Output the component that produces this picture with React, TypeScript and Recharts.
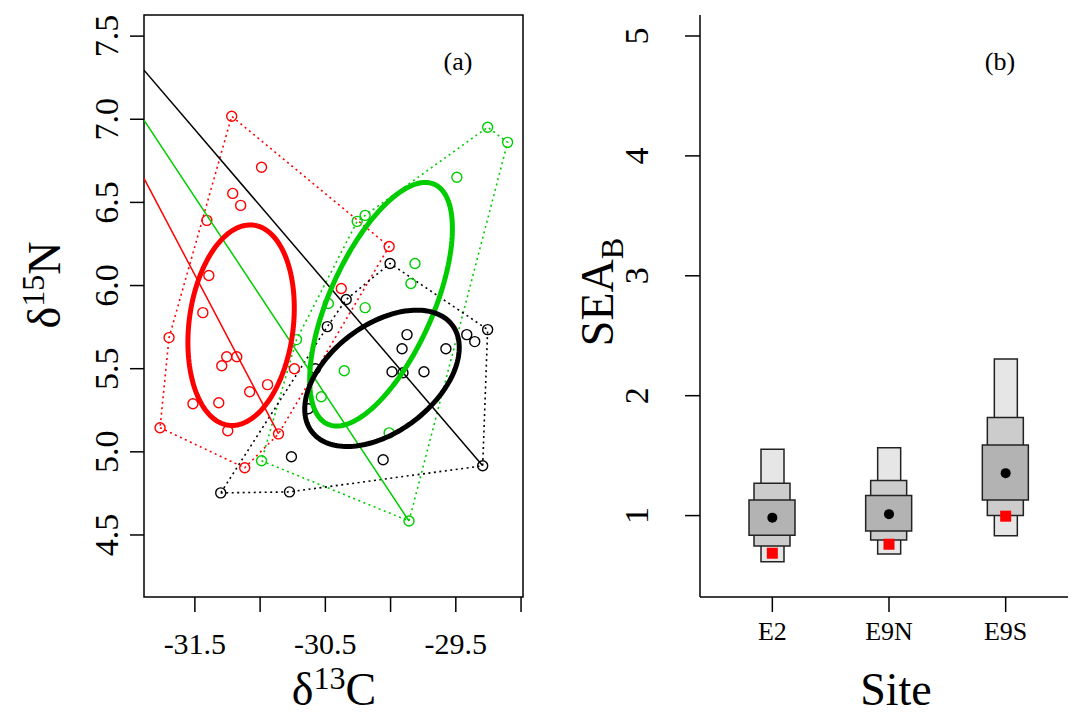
import React from "react";
import {
  ScatterChart,
  Scatter,
  XAxis,
  YAxis,
  ReferenceArea,
  ComposedChart,
  Bar,
  Line,
} from "recharts";

const SERIF = '"Liberation Serif", "DejaVu Serif", serif';

// ---- panel (a): isotope values per group ----
const redC = [-31.218, -30.989, -31.21, -31.149, -31.408, -30.011, -31.393, -30.378, -31.439, -31.698, -31.256, -31.179, -31.294, -30.737, -30.943, -31.08, -31.515, -31.317, -31.767, -31.248, -30.859, -31.118];
const redN = [7.018, 6.711, 6.554, 6.482, 6.392, 6.235, 6.06, 5.982, 5.837, 5.687, 5.572, 5.572, 5.518, 5.5, 5.404, 5.361, 5.289, 5.295, 5.145, 5.127, 5.108, 4.904];
const greenC = [-29.256, -29.103, -29.492, -30.195, -30.256, -29.813, -29.844, -30.477, -30.195, -30.721, -30.355, -30.531, -30.011, -29.859, -30.989];
const greenN = [6.952, 6.861, 6.651, 6.422, 6.386, 6.133, 6.012, 5.892, 5.867, 5.675, 5.488, 5.331, 5.114, 4.584, 4.946];
const blackC = [-30.004, -30.34, -30.485, -29.256, -29.874, -29.416, -29.355, -29.912, -29.576, -29.989, -29.905, -29.744, -30.576, -30.63, -30.76, -30.057, -29.294, -30.775, -31.302];
const blackN = [6.133, 5.916, 5.753, 5.735, 5.705, 5.705, 5.663, 5.62, 5.62, 5.482, 5.476, 5.482, 5.5, 5.259, 4.97, 4.952, 4.916, 4.759, 4.753];

// solid lines (start at left edge, end at a hull point)
const redLineC = [-31.89, -30.859];
const redLineN = [6.645, 5.108];
const greenLineC = [-31.89, -29.859];
const greenLineN = [6.994, 4.584];
const blackLineC = [-31.89, -29.294];
const blackLineN = [7.295, 4.916];

const xDomainA: [number, number] = [-31.89, -28.985];
const yDomainA: [number, number] = [4.127, 7.627];
const xTicksA = [-31.5, -31, -30.5, -30, -29.5, -29];
const xLabelledA = [-31.5, -30.5, -29.5];
const yTicksA = [4.5, 5, 5.5, 6, 6.5, 7, 7.5];

// ---- panel (b): SEA_B credible intervals ----
const sites = ["E2", "E9N", "E9S"];
const ci95Low = [0.616, 0.68, 0.831];
const ci95High = [1.554, 1.565, 2.306];
const ci75Low = [0.747, 0.797, 1.0];
const ci75High = [1.27, 1.292, 1.818];
const ci50Low = [0.836, 0.872, 1.129];
const ci50High = [1.129, 1.167, 1.588];
const seaMode = [0.983, 1.012, 1.354];
const seaCorrected = [0.686, 0.761, 0.995];

const yDomainB: [number, number] = [0.321, 5.175];
const yTicksB = [1, 2, 3, 4, 5];

const RED = "#FF0000";
const GREEN = "#00CD00";
const BLACK = "#000000";

type Pt = { x: number; y: number };

const toPts = (xs: number[], ys: number[]): Pt[] => xs.map((x, i) => ({ x, y: ys[i] }));

// convex hull (monotone chain), closed
function hull(pts: Pt[]): Pt[] {
  const p = [...pts].sort((a, b) => a.x - b.x || a.y - b.y);
  const cross = (o: Pt, a: Pt, b: Pt) => (a.x - o.x) * (b.y - o.y) - (a.y - o.y) * (b.x - o.x);
  const lower: Pt[] = [];
  for (const q of p) {
    while (lower.length >= 2 && cross(lower[lower.length - 2], lower[lower.length - 1], q) <= 0) lower.pop();
    lower.push(q);
  }
  const upper: Pt[] = [];
  for (let i = p.length - 1; i >= 0; i--) {
    const q = p[i];
    while (upper.length >= 2 && cross(upper[upper.length - 2], upper[upper.length - 1], q) <= 0) upper.pop();
    upper.push(q);
  }
  const h = lower.slice(0, -1).concat(upper.slice(0, -1));
  return [...h, h[0]];
}

// small-sample corrected standard ellipse (SEAc)
function ellipse(xs: number[], ys: number[]): Pt[] {
  const n = xs.length;
  const mx = xs.reduce((s, v) => s + v, 0) / n;
  const my = ys.reduce((s, v) => s + v, 0) / n;
  let sxx = 0, syy = 0, sxy = 0;
  for (let i = 0; i < n; i++) {
    sxx += (xs[i] - mx) ** 2;
    syy += (ys[i] - my) ** 2;
    sxy += (xs[i] - mx) * (ys[i] - my);
  }
  sxx /= n - 1;
  syy /= n - 1;
  sxy /= n - 1;
  const tr = sxx + syy;
  const det = sxx * syy - sxy * sxy;
  const d = Math.sqrt(Math.max(tr * tr / 4 - det, 0));
  const l1 = tr / 2 + d;
  const l2 = tr / 2 - d;
  const th = Math.atan2(l1 - sxx, sxy);
  const k = Math.sqrt((n - 1) / (n - 2));
  const a = Math.sqrt(l1) * k;
  const b = Math.sqrt(Math.max(l2, 0)) * k;
  const out: Pt[] = [];
  for (let i = 0; i <= 160; i++) {
    const t = (i / 160) * 2 * Math.PI;
    out.push({
      x: mx + a * Math.cos(t) * Math.cos(th) - b * Math.sin(t) * Math.sin(th),
      y: my + a * Math.cos(t) * Math.sin(th) + b * Math.sin(t) * Math.cos(th),
    });
  }
  return out;
}

const groups = [
  { color: RED, xs: redC, ys: redN, lx: redLineC, ly: redLineN },
  { color: GREEN, xs: greenC, ys: greenN, lx: greenLineC, ly: greenLineN },
  { color: BLACK, xs: blackC, ys: blackN, lx: blackLineC, ly: blackLineN },
];

const siteData = sites.map((site, i) => ({
  site,
  r95: [ci95Low[i], ci95High[i]],
  r75: [ci75Low[i], ci75High[i]],
  r50: [ci50Low[i], ci50High[i]],
  mode: seaMode[i],
  seac: seaCorrected[i],
}));

const Empty = () => <g />;

const XTickA = (props: any) => {
  const v = props.payload.value;
  if (!xLabelledA.some((l) => Math.abs(l - v) < 1e-6)) return <g />;
  return (
    <text x={props.x} y={654} textAnchor="middle" fontSize={30} fontFamily={SERIF} fill="#000">
      {v.toFixed(1)}
    </text>
  );
};

const YTickA = (props: any) => (
  <text
    x={118}
    y={props.y}
    transform={`rotate(-90, 118, ${props.y})`}
    textAnchor="middle"
    fontSize={34}
    fontFamily={SERIF}
    fill="#000"
  >
    {props.payload.value.toFixed(1)}
  </text>
);

const XTickB = (props: any) => (
  <text x={props.x} y={640} textAnchor="middle" fontSize={26} fontFamily={SERIF} fill="#000">
    {props.payload.value}
  </text>
);

const YTickB = (props: any) => (
  <text
    x={648}
    y={props.y}
    transform={`rotate(-90, 648, ${props.y})`}
    textAnchor="middle"
    fontSize={34}
    fontFamily={SERIF}
    fill="#000"
  >
    {props.payload.value}
  </text>
);

const tickLine = { stroke: "#000", strokeWidth: 1.5 };
const frameLine = { stroke: "#000", strokeWidth: 1.5 };

export default function App() {
  return (
    <div
      style={{
        position: "relative",
        width: 1076,
        height: 718,
        margin: -8,
        overflow: "hidden",
        background: "#fff",
        fontFamily: SERIF,
        color: "#000",
      }}
    >
      <div style={{ position: "absolute", left: 0, top: 0 }}>
        <ScatterChart width={560} height={718} margin={{ top: 15, right: 37, bottom: 0, left: 0 }}>
          <XAxis
            type="number"
            dataKey="x"
            domain={xDomainA}
            ticks={xTicksA}
            interval={0}
            allowDataOverflow
            height={121}
            tickSize={15}
            axisLine={false}
            tickLine={tickLine}
            tick={XTickA}
          />
          <YAxis
            type="number"
            dataKey="y"
            domain={yDomainA}
            ticks={yTicksA}
            interval={0}
            allowDataOverflow
            width={144}
            tickSize={14}
            axisLine={false}
            tickLine={tickLine}
            tick={YTickA}
          />
          <ReferenceArea
            x1={xDomainA[0]}
            x2={xDomainA[1]}
            y1={yDomainA[0]}
            y2={yDomainA[1]}
            fill="none"
            stroke="#000"
            strokeWidth={1.5}
            ifOverflow="visible"
          />
          {groups.map((g, i) => (
            <Scatter
              key={`hull${i}`}
              data={hull(toPts(g.xs, g.ys))}
              line={{ stroke: g.color, strokeWidth: 1.6, strokeDasharray: "2 3.5" }}
              shape={Empty}
              isAnimationActive={false}
            />
          ))}
          {groups.map((g, i) => (
            <Scatter
              key={`pts${i}`}
              data={toPts(g.xs, g.ys)}
              shape={(p: any) => (
                <circle cx={p.cx} cy={p.cy} r={5} fill="none" stroke={g.color} strokeWidth={1.4} />
              )}
              isAnimationActive={false}
            />
          ))}
          {groups.map((g, i) => (
            <Scatter
              key={`line${i}`}
              data={toPts(g.lx, g.ly)}
              line={{ stroke: g.color, strokeWidth: 1.5 }}
              shape={Empty}
              isAnimationActive={false}
            />
          ))}
          {groups.map((g, i) => (
            <Scatter
              key={`ell${i}`}
              data={ellipse(g.xs, g.ys)}
              line={{ stroke: g.color, strokeWidth: 5 }}
              shape={Empty}
              isAnimationActive={false}
            />
          ))}
        </ScatterChart>
      </div>

      <div style={{ position: "absolute", left: 560, top: 0, width: 520, height: 718, overflow: "hidden" }}>
        <div style={{ position: "absolute", left: -560, top: 0 }}>
          <ComposedChart width={1088} height={718} data={siteData} margin={{ top: 15, right: 10, bottom: 0, left: 0 }}>
            <XAxis
              xAxisId="a"
              dataKey="site"
              type="category"
              padding={{ left: 14, right: 14 }}
              height={121}
              tickSize={15}
              axisLine={frameLine}
              tickLine={tickLine}
              tick={XTickB}
            />
            <XAxis xAxisId="b" dataKey="site" type="category" padding={{ left: 14, right: 14 }} hide />
            <XAxis xAxisId="c" dataKey="site" type="category" padding={{ left: 14, right: 14 }} hide />
            <XAxis
              xAxisId="top"
              orientation="top"
              dataKey="site"
              type="category"
              height={0}
              tick={false}
              tickLine={false}
              axisLine={frameLine}
            />
            <YAxis
              type="number"
              domain={yDomainB}
              ticks={yTicksB}
              interval={0}
              allowDataOverflow
              width={700}
              tickSize={15}
              axisLine={frameLine}
              tickLine={tickLine}
              tick={YTickB}
            />
            <Bar xAxisId="a" dataKey="r95" barSize={23} fill="#E6E6E6" stroke="#222" strokeWidth={1.5} isAnimationActive={false} />
            <Bar xAxisId="b" dataKey="r75" barSize={36} fill="#CCCCCC" stroke="#222" strokeWidth={1.5} isAnimationActive={false} />
            <Bar xAxisId="c" dataKey="r50" barSize={46} fill="#B3B3B3" stroke="#222" strokeWidth={1.5} isAnimationActive={false} />
            <Line
              xAxisId="a"
              dataKey="mode"
              stroke="none"
              isAnimationActive={false}
              activeDot={false}
              dot={(p: any) => <circle key={`m${p.index}`} cx={p.cx} cy={p.cy} r={5} fill="#000" />}
            />
            <Line
              xAxisId="a"
              dataKey="seac"
              stroke="none"
              isAnimationActive={false}
              activeDot={false}
              dot={(p: any) => (
                <rect key={`s${p.index}`} x={p.cx - 5.5} y={p.cy - 5.5} width={11} height={11} fill={RED} />
              )}
            />
          </ComposedChart>
        </div>
      </div>

      {/* panel labels and axis titles */}
      <div style={{ position: "absolute", left: 458, top: 62, transform: "translate(-50%,-50%)", fontSize: 26, lineHeight: 1 }}>
        (a)
      </div>
      <div style={{ position: "absolute", left: 1000, top: 62, transform: "translate(-50%,-50%)", fontSize: 26, lineHeight: 1 }}>
        (b)
      </div>
      <div
        style={{
          position: "absolute",
          left: 334,
          top: 690,
          transform: "translate(-50%,-50%)",
          fontSize: 46,
          lineHeight: 1,
          whiteSpace: "nowrap",
        }}
      >
        δ<sup style={{ fontSize: "0.7em", lineHeight: 0 }}>13</sup>C
      </div>
      <div
        style={{
          position: "absolute",
          left: 45,
          top: 285,
          transform: "translate(-50%,-50%) rotate(-90deg)",
          fontSize: 46,
          lineHeight: 1,
          whiteSpace: "nowrap",
        }}
      >
        δ<sup style={{ fontSize: "0.7em", lineHeight: 0 }}>15</sup>N
      </div>
      <div
        style={{
          position: "absolute",
          left: 896,
          top: 690,
          transform: "translate(-50%,-50%)",
          fontSize: 46,
          lineHeight: 1,
          whiteSpace: "nowrap",
        }}
      >
        Site
      </div>
      <div
        style={{
          position: "absolute",
          left: 598,
          top: 292,
          transform: "translate(-50%,-50%) rotate(-90deg)",
          fontSize: 46,
          lineHeight: 1,
          whiteSpace: "nowrap",
        }}
      >
        SEA<sub style={{ fontSize: "0.7em", lineHeight: 0 }}>B</sub>
      </div>
    </div>
  );
}
